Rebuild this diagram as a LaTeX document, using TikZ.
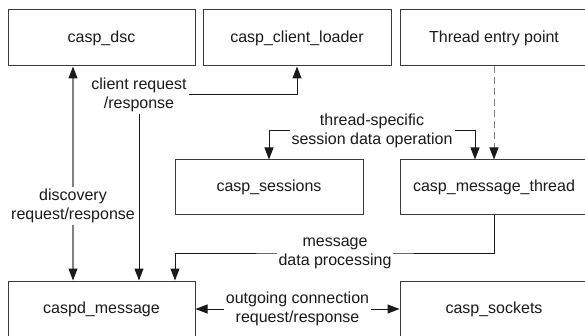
\documentclass[tikz,border=0pt]{standalone}
\usepackage{fontspec}
\setmainfont{Liberation Sans}
\usetikzlibrary{arrows.meta,calc}
\definecolor{boxc}{HTML}{3C3C3C}
\definecolor{linec}{HTML}{1A1A1A}
\definecolor{grayc}{HTML}{808080}
\definecolor{txt}{HTML}{1A1A1A}
\begin{document}
\begin{tikzpicture}[x=1pt,y=-1pt,
  >={Triangle[length=12pt,width=9pt,color=linec]},
  box/.style={draw=boxc, line width=1pt, minimum width=188pt, minimum height=56pt,
    inner sep=0pt, font=\fontsize{16}{19}\selectfont, text=txt},
  lbl/.style={fill=white, align=center, inner sep=2pt,
    font=\fontsize{16}{19}\selectfont, text=txt},
  conn/.style={line width=1pt, draw=linec},
  grayconn/.style={line width=1.2pt, draw=grayc}]
\useasboundingbox (0,0) rectangle (585,336);
\clip (0,0) rectangle (585,336);
\fill[white] (0,0) rectangle (585,336);
% boxes
\node[box, minimum width=187pt] (dsc) at (101.5,38) {casp\_dsc};
\node[box] (loader) at (297,38) {casp\_client\_loader};
\node[box] (entry) at (494,38) {Thread entry point};
\node[box, minimum height=55pt] (sess) at (269,187.5) {casp\_sessions};
\node[box, minimum height=55pt] (mthr) at (494,187.5) {casp\_message\_thread};
\node[box, minimum width=187pt] (msg) at (101.5,309) {caspd\_message};
\node[box] (sock) at (494,309) {casp\_sockets};
% helper coordinates
\coordinate (dx) at (73,0);
\coordinate (cl) at (139,95);
\coordinate (ts) at (372,131);
\coordinate (tr) at (475,0);
\coordinate (mp) at (335,253);
\coordinate (ml) at (175,0);
% connectors
\draw[grayconn,<->] (dsc.south -| dx) -- (msg.north -| dx)
  node[lbl, pos=0.65] {discovery\\request/response};
\draw[conn,<->] (loader.south) |- (cl) -- (msg.north -| cl);
\node[lbl] at (cl) {client request\\/response};
\draw[conn,<->] (sess.north) |- (ts) -| (mthr.north -| tr);
\node[lbl] at (ts) {thread-specific\\session data operation};
\draw[grayconn, line width=1pt, dash pattern=on 7pt off 4pt, ->] (entry.south) -- (mthr.north);
\draw[conn,->] (mthr.south) |- (mp) -| (msg.north -| ml);
\node[lbl] at (mp) {message\\data processing};
\draw[conn,<->] (msg.east) -- (sock.west)
  node[lbl, midway] {outgoing connection\\request/response};
\end{tikzpicture}
\end{document}
